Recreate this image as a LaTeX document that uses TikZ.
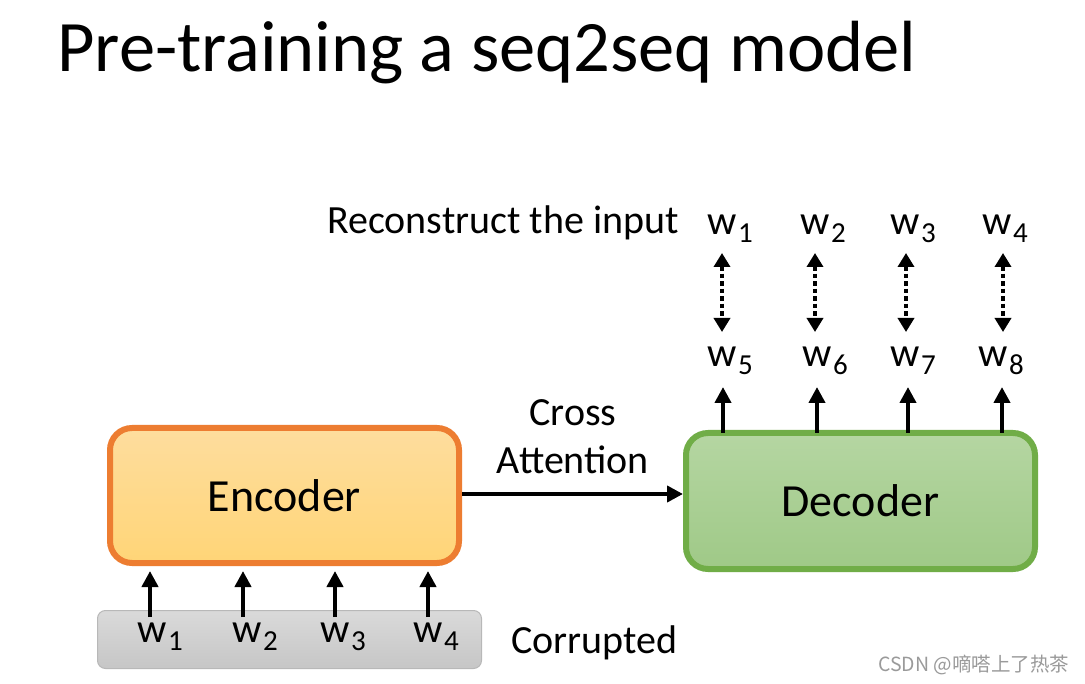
\documentclass[tikz,border=0pt]{standalone}
\usepackage{fontspec}
\setmainfont{Carlito}
\newfontfamily\cjkfont{Noto Sans CJK SC}
\usetikzlibrary{arrows.meta}
\definecolor{encborder}{HTML}{ED7D31}
\definecolor{enctop}{HTML}{FEDD9E}
\definecolor{encbot}{HTML}{FFD577}
\definecolor{decborder}{HTML}{70AD47}
\definecolor{dectop}{HTML}{B5D6A2}
\definecolor{decbot}{HTML}{9FC987}
\definecolor{graytop}{HTML}{DADADA}
\definecolor{graybot}{HTML}{C6C6C6}
\definecolor{grayborder}{HTML}{B8B8B8}
\definecolor{wmark}{HTML}{9A9A9A}
\newcommand{\wsub}[1]{w\hspace{1.5pt}\raisebox{-8pt}{\fontsize{29}{29}\selectfont #1}}
\begin{document}
\begin{tikzpicture}[x=1pt,y=-1pt,
  bigbox/.style={rounded corners=22pt, line width=6pt, minimum width=349pt, font=\fontsize{46}{46}\selectfont, inner sep=0pt},
  wlab/.style={anchor=base west, inner sep=0pt, font=\fontsize{41}{41}\selectfont},
  txt/.style={inner sep=0pt, font=\fontsize{40}{48}\selectfont},
  arr/.style={line width=4pt, -{Triangle[width=16pt,length=16pt]}},
  dotarr/.style={line width=4.5pt, dash pattern=on 4.5pt off 3pt, {Triangle[width=16pt,length=14pt]}-{Triangle[width=16pt,length=14pt]}}
]
\useasboundingbox (0,0) rectangle (1085,684);
\fill[white] (0,0) rectangle (1085,684);

% title
\node[anchor=base west, inner sep=0pt, font=\fontsize{72.5}{72.5}\selectfont] (title) at (57,72) {Pre-training a seq2seq model};

% boxes
\node[bigbox, draw=encborder, top color=enctop, bottom color=encbot, minimum height=135pt] (enc) at (284.5,495.5) {Encoder};
\node[bigbox, draw=decborder, top color=dectop, bottom color=decbot, minimum height=136pt] (dec) at (860.5,501) {Decoder};
\node[rounded corners=8pt, draw=grayborder, line width=1pt, top color=graytop, bottom color=graybot, minimum width=384pt, minimum height=58pt, inner sep=0pt] (corr) at (289.5,639.5) {};

% input words
\node[wlab] (i1) at (137,642) {\wsub{1}};
\node[wlab] (i2) at (232,642) {\wsub{2}};
\node[wlab] (i3) at (320,642) {\wsub{3}};
\node[wlab] (i4) at (413,642) {\wsub{4}};
\node[txt, anchor=base west] (corrlab) at (511,653) {Corrupted};

% input arrows
\foreach \i/\x in {1/150,2/243,3/335,4/428}{
  \coordinate (ia\i) at (\x,617);
  \coordinate (ib\i) at (\x,571);
  \draw[arr] (ia\i) -- (ib\i);
}

% cross attention
\node[txt, align=center] (cross) at (573,437) {Cross\\Attention};
\draw[arr] (enc.east |- 0,494) -- (dec.west |- 0,494);

% decoder outputs
\node[wlab] (o5) at (707,367) {\wsub{5}};
\node[wlab] (o6) at (802,367) {\wsub{6}};
\node[wlab] (o7) at (890,367) {\wsub{7}};
\node[wlab] (o8) at (978,367) {\wsub{8}};
\foreach \i/\x in {5/723,6/817,7/908,8/1002}{
  \coordinate (oa\i) at (\x,433);
  \coordinate (ob\i) at (\x,387);
  \draw[arr] (oa\i) -- (ob\i);
}

% reconstruct targets
\node[txt, anchor=base west] (recon) at (327,234) {Reconstruct the input};
\node[wlab] (t1) at (707,235) {\wsub{1}};
\node[wlab] (t2) at (800,235) {\wsub{2}};
\node[wlab] (t3) at (890,235) {\wsub{3}};
\node[wlab] (t4) at (982,235) {\wsub{4}};
\foreach \i/\x in {1/722,2/815,3/906,4/1003}{
  \coordinate (da\i) at (\x,253);
  \coordinate (db\i) at (\x,332);
  \draw[dotarr] (da\i) -- (db\i);
}

% watermark
\node[anchor=base west, inner sep=0pt, text=wmark, font=\cjkfont\fontsize{19.5}{19.5}\selectfont] (wm) at (878,671) {CSDN @嘀嗒上了热茶};
\end{tikzpicture}
\end{document}
